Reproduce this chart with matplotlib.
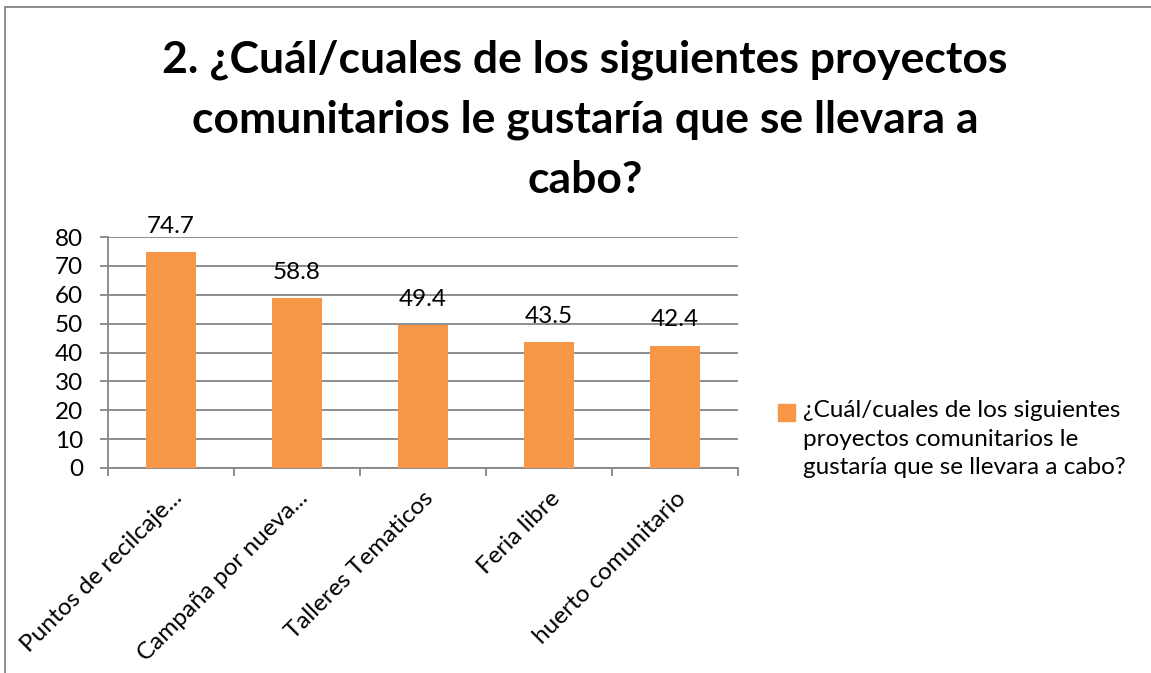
import matplotlib.pyplot as plt
from matplotlib.lines import Line2D
from matplotlib.patches import Rectangle

categories = ['Puntos de recilcaje...', 'Campaña por nueva...', 'Talleres Tematicos',
              'Feria libre', 'huerto comunitario']
values = [74.7, 58.8, 49.4, 43.5, 42.4]
title = '2. ¿Cuál/cuales de los siguientes proyectos\ncomunitarios le gustaría que se llevara a\ncabo?'
series_name = '¿Cuál/cuales de los siguientes\nproyectos comunitarios le\ngustaría que se llevara a cabo?'

bar_color = '#F79646'
line_color = '#868686'
fs = 17.5

plt.rcParams['font.family'] = ['Lato', 'DejaVu Sans']

fig = plt.figure(figsize=(11.51, 6.73), dpi=100)
ax = fig.add_axes([108 / 1151, 1 - 468 / 673, 630 / 1151, 231 / 673])

x = list(range(len(categories)))
bars = ax.bar(x, values, width=0.39, color=bar_color, zorder=3)
ax.bar_label(bars, labels=[f'{v:.1f}' for v in values], padding=11, fontsize=fs)

ax.set_xlim(-0.5, len(categories) - 0.5)
ax.set_ylim(0, 80)
ax.set_yticks(range(0, 81, 10))
ax.yaxis.grid(True, color=line_color, linewidth=1.3, zorder=0)

ax.set_xticks(x)
ax.set_xticklabels(categories, rotation=45, ha='right', va='top',
                   rotation_mode='anchor', fontsize=fs)
ax.set_xticks([i - 0.5 for i in range(len(categories) + 1)], minor=True)
ax.tick_params(axis='x', which='major', length=0, pad=14)
ax.tick_params(axis='x', which='minor', length=6, color=line_color, width=1.3)
ax.tick_params(axis='y', length=6, color=line_color, width=1.3, labelsize=fs, pad=12)

for side in ['top', 'right']:
    ax.spines[side].set_visible(False)
for side in ['left', 'bottom']:
    ax.spines[side].set_color(line_color)
    ax.spines[side].set_linewidth(1.3)

fig.text(585 / 1151, 1 - 120 / 673, title, ha='center', va='center',
         fontsize=32, fontweight='bold', linespacing=1.6)

# legend: square key next to the first line of the wrapped series name
fig.add_artist(Rectangle((778 / 1151, 1 - 421 / 673), 17 / 1151, 17 / 673,
                         color=bar_color, transform=fig.transFigure))
fig.text(803 / 1151, 1 - 400 / 673, series_name, ha='left', va='top',
         fontsize=fs, linespacing=1.45)

# chart area border (only the top and left edges are visible in the crop)
fig.add_artist(Line2D([5 / 1151, 5 / 1151], [0, 1 - 7 / 673], color=line_color,
                      linewidth=1.3, transform=fig.transFigure))
fig.add_artist(Line2D([5 / 1151, 1], [1 - 7 / 673, 1 - 7 / 673], color=line_color,
                      linewidth=1.3, transform=fig.transFigure))

fig.savefig('out.png', dpi=100)
